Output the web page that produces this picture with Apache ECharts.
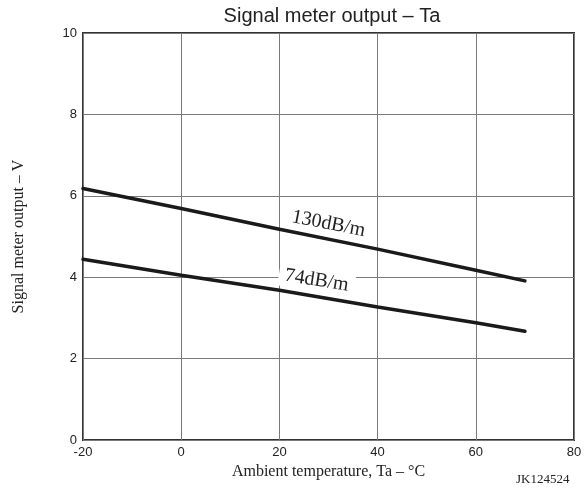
<!DOCTYPE html>
<html><head><meta charset="utf-8">
<script src="https://cdn.jsdelivr.net/npm/echarts@6/dist/echarts.min.js"></script>
<style>html,body{margin:0;padding:0;background:#fff}#c{width:588px;height:490px}</style>
</head><body><div id="c"></div>
<script>
const temps = [-20, 0, 20, 40, 60, 70];
const s130 = [6.18, 5.69, 5.18, 4.69, 4.17, 3.91];
const s74 = [4.44, 4.05, 3.68, 3.27, 2.88, 2.67];
const xTicks = [-20, 0, 20, 40, 60, 80];
const yTicks = [0, 2, 4, 6, 8, 10];
const seriesNames = ['130dB/m', '74dB/m'];

const chart = echarts.init(document.getElementById('c'));
const pair = (xs, ys) => xs.map((x, i) => [x, ys[i]]);
const serif = '"Liberation Serif", "Times New Roman", serif';
const sans = '"Liberation Sans", Arial, sans-serif';
const lineStyle = {color: '#1a1a1a', width: 3.5, cap: 'round'};
function labelPoint(name, coord, rot) {
  return {
    symbol: 'rect',
    symbolSize: 2,
    silent: true,
    itemStyle: {color: 'rgba(0,0,0,0)'},
    label: {show: true, formatter: name, rotate: rot, position: 'inside',
      fontFamily: serif, fontSize: 20, color: '#222',
      backgroundColor: '#fff', padding: [1, 6]},
    data: [{coord: coord}]
  };
}
chart.setOption({
  animation: false,
  title: {text: 'Signal meter output – Ta', left: 327, top: 1, textAlign: 'center',
    textStyle: {fontFamily: sans, fontSize: 20, fontWeight: 'normal', color: '#222'}},
  grid: {left: 83, right: 14, top: 33, bottom: 50, show: true, borderColor: '#333', borderWidth: 2},
  xAxis: {type: 'value', min: -20, max: 80, interval: 20,
    name: 'Ambient temperature, Ta – °C', nameLocation: 'middle', nameGap: 20,
    nameTextStyle: {fontFamily: serif, fontSize: 16, color: '#222'},
    axisLine: {show: false}, axisTick: {show: false},
    axisLabel: {fontFamily: sans, fontSize: 13, color: '#222', margin: 6,
      formatter: v => xTicks.includes(v) ? String(v) : ''},
    splitLine: {show: true, lineStyle: {color: '#7a7a7a', width: 1}}},
  yAxis: {type: 'value', min: 0, max: 10, interval: 2,
    name: 'Signal meter output – V', nameLocation: 'middle', nameGap: 56,
    nameTextStyle: {fontFamily: serif, fontSize: 16, color: '#222'},
    axisLine: {show: false}, axisTick: {show: false},
    axisLabel: {fontFamily: sans, fontSize: 13, color: '#222', margin: 6,
      formatter: v => yTicks.includes(v) ? String(v) : ''},
    splitLine: {show: true, lineStyle: {color: '#7a7a7a', width: 1}}},
  graphic: [{type: 'text', left: 516, top: 473,
    style: {text: 'JK124524', fontFamily: serif, fontSize: 13, fill: '#222'}}],
  series: [
    {name: seriesNames[0], type: 'line', data: pair(temps, s130), showSymbol: false, lineStyle: lineStyle,
      markPoint: labelPoint(seriesNames[0], [30.0, 5.31], -11), z: 3},
    {name: seriesNames[1], type: 'line', data: pair(temps, s74), showSymbol: false, lineStyle: lineStyle,
      markPoint: labelPoint(seriesNames[1], [27.6, 3.92], -9), z: 3}
  ]
});
</script></body></html>
